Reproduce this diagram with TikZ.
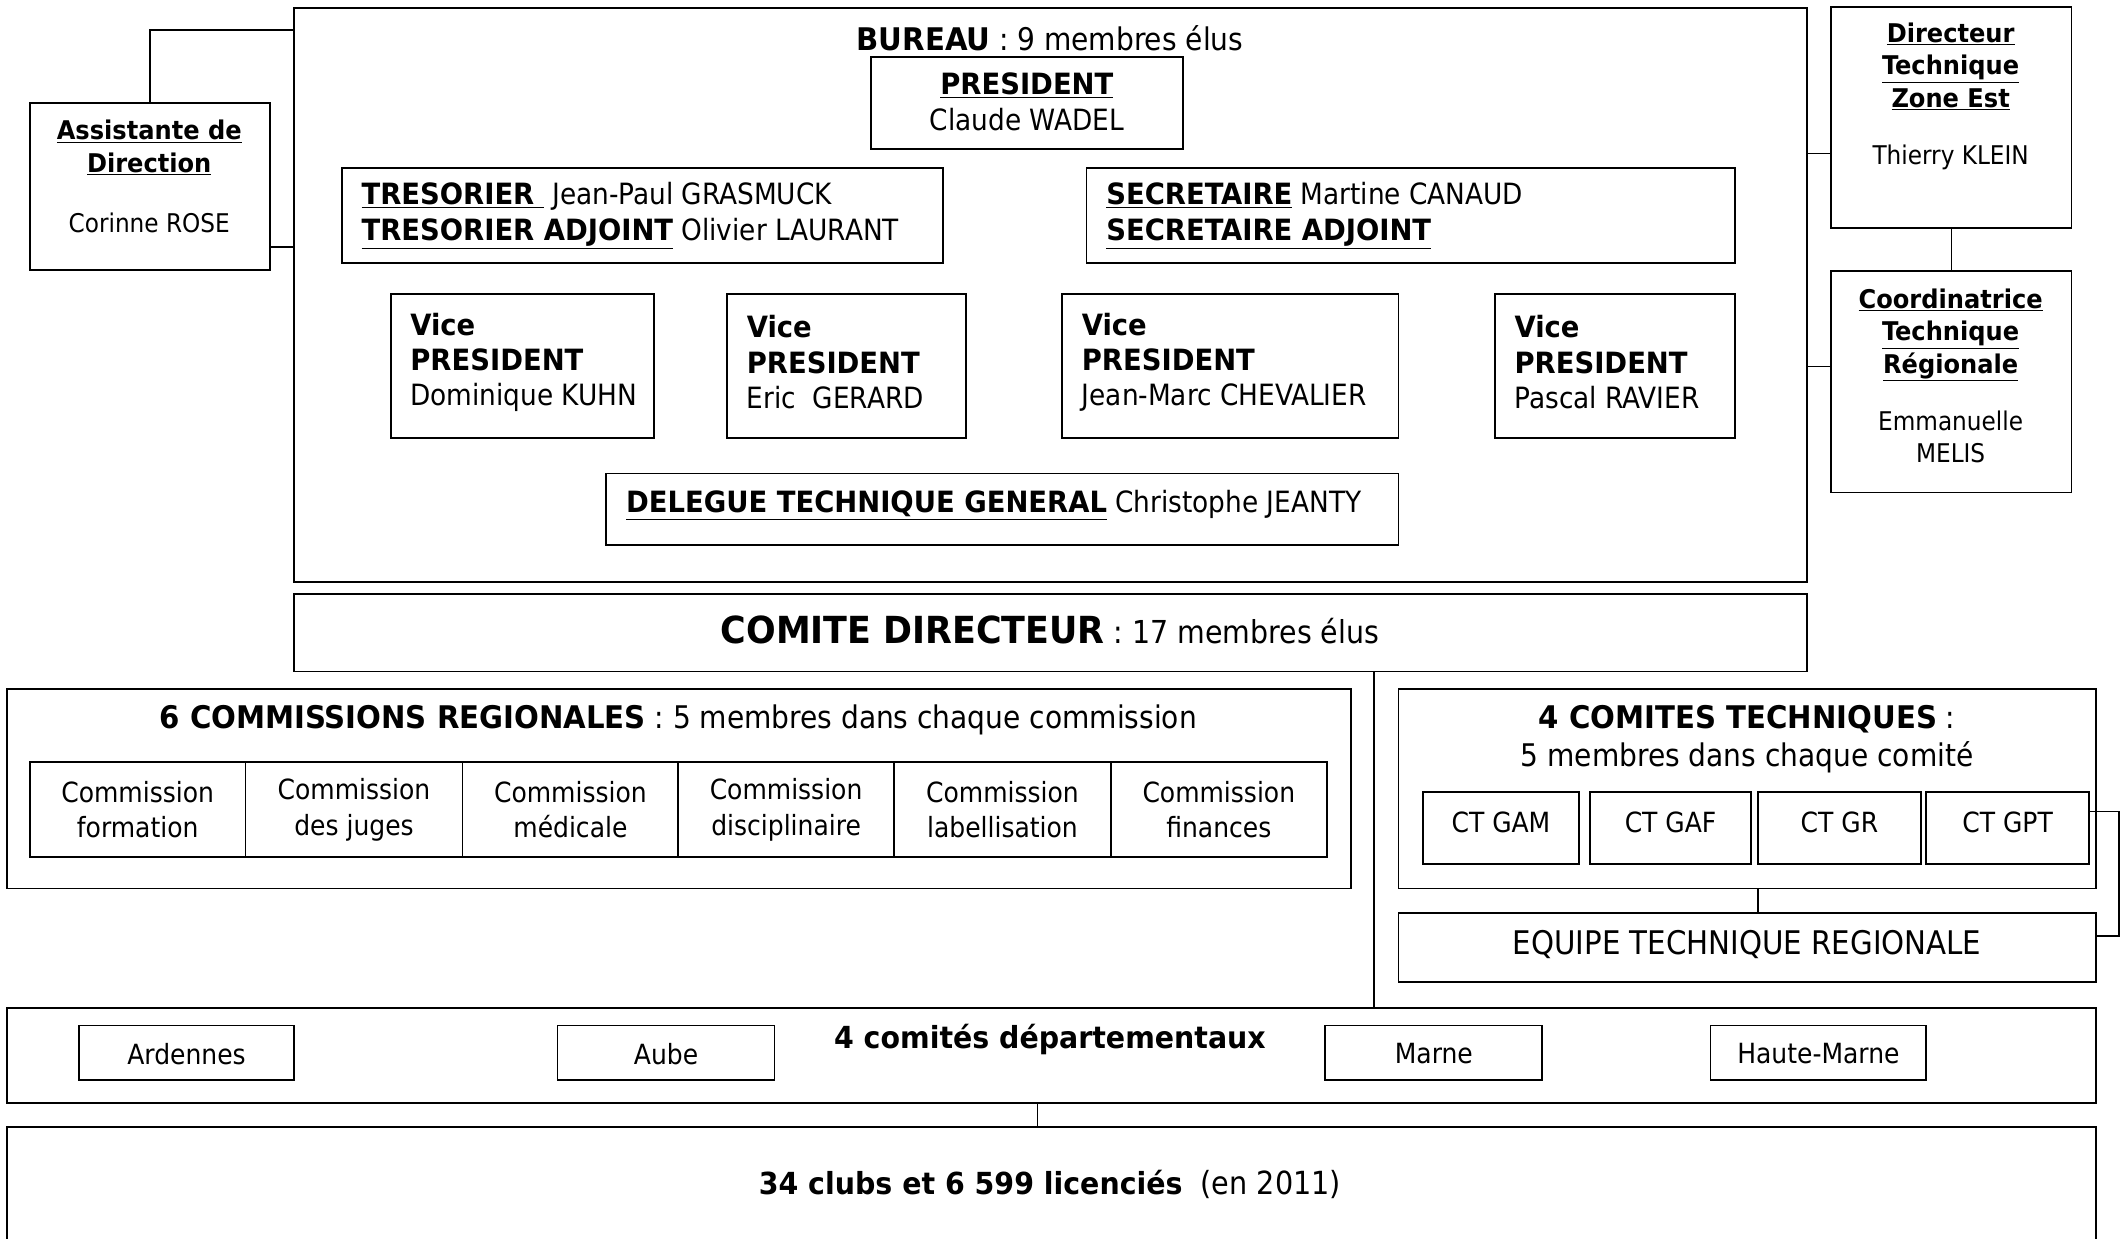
\documentclass[tikz,border=0pt]{standalone}
\usepackage{fontspec}
\setmainfont{DejaVu Sans Condensed}[BoldFeatures={FakeStretch=1.04}]
\usetikzlibrary{fit}
\newcommand\fN{\fontsize{21.6}{26}\selectfont}
\newcommand\fS{\fontsize{19}{24}\selectfont}
\newcommand\fH{\fontsize{23}{28}\selectfont}
\newcommand\fC{\fontsize{23.3}{28}\selectfont}
\newcommand\fCB{\fontsize{27.5}{28}\selectfont}
\newcommand\fM{\fontsize{20.5}{26}\selectfont}
\newcommand\ub[1]{\underline{\textbf{#1}}}
\begin{document}
\begin{tikzpicture}[x=1pt,y=-1pt,
 box/.style={draw, line width=1.3pt, inner sep=0pt},
 lnk/.style={draw, line width=1pt},
 txt/.style={inner sep=0pt, align=center, font=\fN},
 ltxt/.style={inner sep=0pt, align=left, font=\fN, anchor=west},
]
\useasboundingbox (0,0) rectangle (1568,913);
\fill[white] (0,0) rectangle (1568,913);

% ---------------- BUREAU
\node[box, fit={(217,6) (1332,429)}] (bureau) {};
\node[txt, font=\fH] (bureauT) at (774,28) {\textbf{BUREAU} : 9 membres élus};
\node[box, fit={(642,42) (872,110)}] (pres) {};
\node[txt] (presT) at ([yshift=1pt]pres.center) {\ub{PRESIDENT}\\Claude WADEL};
\node[box, fit={(252,124) (695,194)}] (treso) {};
\node[ltxt] (tresoT) at ([xshift=15pt]treso.west) {\ub{TRESORIER\ }\ Jean-Paul GRASMUCK\\\ub{TRESORIER ADJOINT} Olivier LAURANT};
\node[box, fit={(801,124) (1279,194)}] (secr) {};
\node[ltxt] (secrT) at ([xshift=15pt]secr.west) {\ub{SECRETAIRE} Martine CANAUD\\\ub{SECRETAIRE ADJOINT}};

\node[box, fit={(288,217) (482,323)}] (vp1) {};
\node[box, fit={(536,217) (712,323)}] (vp2) {};
\node[box, fit={(783,217) (1031,323)}] (vp3) {};
\node[box, fit={(1102,217) (1279,323)}] (vp4) {};
\node[ltxt] (vp1T) at ([xshift=15pt,yshift=3pt]vp1.west) {\textbf{Vice}\\\textbf{PRESIDENT}\\Dominique KUHN};
\node[ltxt] (vp2T) at ([xshift=15pt,yshift=3pt]vp2.west) {\textbf{Vice}\\\textbf{PRESIDENT}\\Eric\ \ GERARD};
\node[ltxt] (vp3T) at ([xshift=15pt,yshift=3pt]vp3.west) {\textbf{Vice}\\\textbf{PRESIDENT}\\Jean-Marc CHEVALIER};
\node[ltxt] (vp4T) at ([xshift=15pt,yshift=3pt]vp4.west) {\textbf{Vice}\\\textbf{PRESIDENT}\\Pascal RAVIER};

\node[box, fit={(447,349) (1031,402)}] (dtg) {};
\node[ltxt] (dtgT) at ([xshift=15pt,yshift=3pt]dtg.west) {\ub{DELEGUE TECHNIQUE GENERAL} Christophe JEANTY};

% ---------------- side boxes
\node[box, fit={(22,76) (199,199)}] (assist) {};
\node[txt, font=\fS] (assistT) at (110,130) {\ub{Assistante de}\\\ub{Direction}\\[20pt]Corinne ROSE};
\node[box, fit={(1350,5) (1527,168)}] (dir) {};
\node[txt, font=\fS] (dirT) at (1438,71) {\ub{Directeur}\\\ub{Technique}\\\ub{Zone Est}\\[18pt]Thierry KLEIN};
\node[box, fit={(1350,200) (1527,363)}] (coord) {};
\node[txt, font=\fS] (coordT) at (1438,277) {\ub{Coordinatrice}\\\ub{Technique}\\\ub{Régionale}\\[18pt]Emmanuelle\\MELIS};

\coordinate (bA) at (217,22);
\draw[lnk] (assist.north) |- (bA);
\draw[lnk] (assist.east |- 0,182) -- (bureau.west |- 0,182);
\draw[lnk] (bureau.east |- 0,113) -- (dir.west |- 0,113);
\draw[lnk] (bureau.east |- 0,270) -- (coord.west |- 0,270);
\draw[lnk] (dir.south) -- (coord.north);

% ---------------- COMITE DIRECTEUR
\node[box, fit={(217,438) (1332,495)}] (cd) {};
\node[txt] (cdT) at (774,464) {{\fCB\textbf{COMITE DIRECTEUR}}{\fC\ : 17 membres élus}};

% ---------------- COMMISSIONS
\node[box, fit={(5,508) (996,655)}] (comm) {};
\node[txt, font=\fH] (commT) at (500,531) {\textbf{6 COMMISSIONS REGIONALES} : 5 membres dans chaque commission};
\foreach \i/\a/\b/\t in {1/22/181/{Commission\\formation},2/181/341/{Commission\\des juges},3/341/500/{Commission\\médicale},4/500/659/{Commission\\disciplinaire},5/659/819/{Commission\\labellisation},6/819/978/{Commission\\finances}}{
  \node[box, fit={(\a,562) (\b,632)}] (c\i) {};
  \node[txt, font=\fM] (c\i T) at ([yshift=0pt]c\i.center) {\t};
}

% ---------------- COMITES TECHNIQUES
\node[box, fit={(1031,508) (1545,655)}] (ct) {};
\node[txt, font=\fontsize{23}{28}\selectfont] (ctT) at (1288,545) {\textbf{4 COMITES TECHNIQUES} :\\5 membres dans chaque comité};
\foreach \i/\a/\b/\t in {1/1049/1164/{CT GAM},2/1172/1291/{CT GAF},3/1296/1416/{CT GR},4/1420/1540/{CT GPT}}{
  \node[box, fit={(\a,584) (\b,637)}] (ct\i) {};
  \node[txt, font=\fM] (ct\i T) at ([yshift=4pt]ct\i.center) {\t};
}
\node[box, fit={(1031,673) (1545,724)}] (etr) {};
\node[txt, font=\fontsize{24}{28}\selectfont] (etrT) at ([yshift=2pt]etr.center) {EQUIPE TECHNIQUE REGIONALE};
\draw[lnk] (ct.south -| 1296,0) -- (etr.north -| 1296,0);
\coordinate (brA) at (1562,598);
\coordinate (brB) at (1562,690);
\draw[lnk] (ct4.east |- brA) -- (brA) -- (brB) -- (etr.east |- brB);

% ---------------- COMITES DEPARTEMENTAUX
\node[box, fit={(5,743) (1545,813)}] (dep) {};
\node[txt, font=\fontsize{22.4}{28}\selectfont] (depT) at (774,766) {\textbf{4 comités départementaux}};
\foreach \i/\a/\b/\t in {1/58/217/Ardennes,2/411/571/Aube,3/977/1137/Marne,4/1261/1420/Haute-Marne}{
  \node[box, fit={(\a,756) (\b,796)}] (d\i) {};
  \node[txt, font=\fM] (d\i T) at ([yshift=-1pt]d\i.center) {\t};
}
\draw[lnk] (cd.south -| 1013,0) -- (dep.north -| 1013,0);

% ---------------- CLUBS
\node[box, fit={(5,831) (1545,940)}] (clubs) {};
\node[txt] (clubsT) at (774,873) {{\fontsize{22.4}{28}\selectfont\textbf{34 clubs et 6 599 licenciés}}{\fontsize{23.5}{28}\selectfont\ \ (en 2011)}};
\draw[lnk] (dep.south -| 765,0) -- (clubs.north -| 765,0);
\end{tikzpicture}
\end{document}
